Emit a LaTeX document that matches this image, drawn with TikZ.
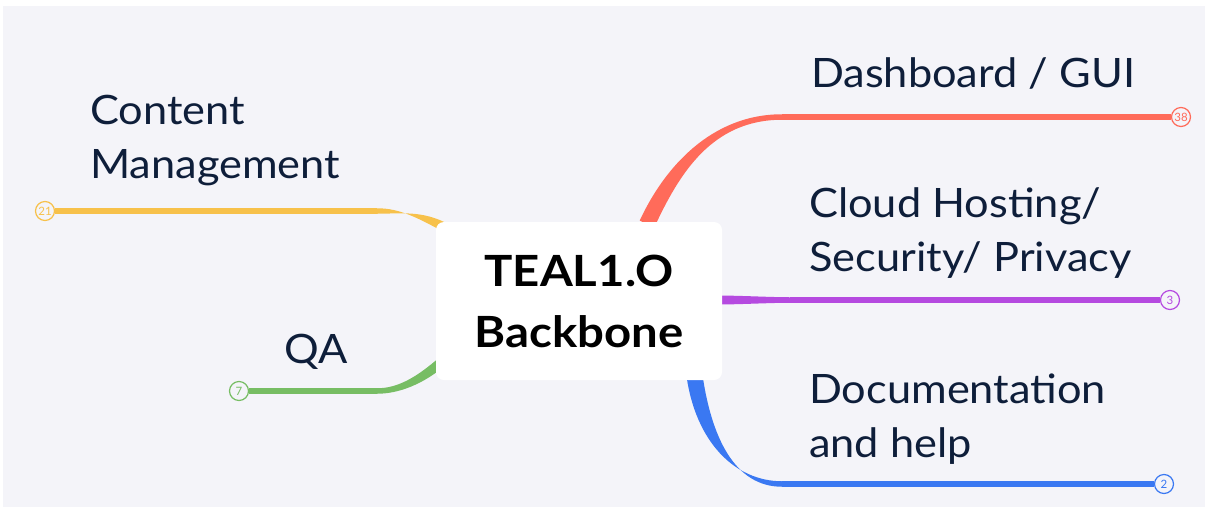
\documentclass[tikz,border=0pt]{standalone}
\usepackage{fontspec}
\setmainfont{Lato}
\newfontfamily\labelfont{Lato}[FakeStretch=1.07]
\newfontfamily\hubfont{Lato}[FakeStretch=1.1]
\usetikzlibrary{calc}
\definecolor{canvas}{HTML}{F4F4F9}
\definecolor{ink}{HTML}{0E1E3A}
\definecolor{cyellow}{HTML}{F7C14B}
\definecolor{cgreen}{HTML}{77BD64}
\definecolor{cred}{HTML}{FF6B5A}
\definecolor{cpurple}{HTML}{B54AE0}
\definecolor{cblue}{HTML}{3A78F2}

% tapered curve: colour, start, control 1, control 2, end, half-normal at start, half-normal at end
\newcommand\taperbranch[7]{%
  \fill[#1] ($#2+#6$) .. controls ($#3+#6$) and ($#4+#7$) .. ($#5+#7$)
    -- ($#5-#7$) .. controls ($#4-#7$) and ($#3-#6$) .. ($#2-#6$) -- cycle;}

\tikzset{
  hubbox/.style={fill=white, rounded corners=8pt, minimum width=286pt, minimum height=158pt,
    align=center, inner sep=0pt, font=\hubfont\bfseries\fontsize{43}{61}\selectfont},
  badge/.style={circle, draw=#1, fill=canvas, line width=1.2pt, text=#1, inner sep=0pt,
    minimum size=19pt, font=\fontsize{11.5}{11.5}\selectfont},
  limb/.style={line width=5.5pt, draw=#1},
  label/.style={anchor=base west, align=left, text=ink, inner sep=0pt,
    font=\labelfont\fontsize{40.5}{54}\selectfont},
}

\begin{document}
\begin{tikzpicture}[x=1pt,y=-1pt]
\useasboundingbox (0,0) rectangle (1208,512);
\fill[white] (0,0) rectangle (1208,512);
\fill[canvas] (3,6) rectangle (1205,507);

% count badges at the ends of the branches
\node[badge=cyellow] (b21) at (45,211) {21};
\node[badge=cgreen]  (b7)  at (239,391) {7};
\node[badge=cred]    (b38) at (1181,117) {38};
\node[badge=cpurple] (b3)  at (1170,300) {3};
\node[badge=cblue]   (b2)  at (1164,484) {2};

% where the curved parts meet the straight parts
\coordinate (y0) at (446,228);
\coordinate (y1) at (377,211);
\coordinate (g0) at (444,360);
\coordinate (g1) at (377,391);
\coordinate (r0) at (647,224);
\coordinate (r1) at (782,117);
\coordinate (p0) at (716,300);
\coordinate (p1) at (790,300);
\coordinate (u0) at (694,372);
\coordinate (u1) at (782,484);

% curved, tapered parts
\taperbranch{cyellow}{(y0)}{(420,214)}{(400,211)}{(y1)}{(2.1,-4.0)}{(0,2.75)}
\taperbranch{cgreen}{(g0)}{(420,381)}{(398,391)}{(g1)}{(3.3,3.7)}{(0,2.75)}
\taperbranch{cred}{(r0)}{(672,170)}{(712,117)}{(r1)}{(7.3,3.4)}{(0,2.75)}
\taperbranch{cpurple}{(p0)}{(740,300)}{(770,300)}{(p1)}{(0,4.5)}{(0,2.75)}
\taperbranch{cblue}{(u0)}{(703,440)}{(735,484)}{(u1)}{(7.8,-2.0)}{(0,2.75)}

% straight parts
\draw[limb=cyellow] (y1) -- (b21);
\draw[limb=cgreen]  (g1) -- (b7);
\draw[limb=cred]    (r1) -- (b38);
\draw[limb=cpurple] (p1) -- (b3);
\draw[limb=cblue]   (u1) -- (b2);

% central topic
\node[hubbox] (hub) at (579,301) {TEAL1.O\\Backbone};

% branch labels (anchored at the baseline of their last line)
\node[label] (ldash)  at (811,87)  {Dashboard / GUI};
\node[label] (lcloud) at (809,271) {Cloud Hosting/\\Security/ Privacy};
\node[label] (ldoc)   at (809,457) {Documentation\\and help};
\node[label] (lcms)   at (90,178)  {Content\\Management};
\node[label] (lqa)    at (284,363) {QA};
\end{tikzpicture}
\end{document}
